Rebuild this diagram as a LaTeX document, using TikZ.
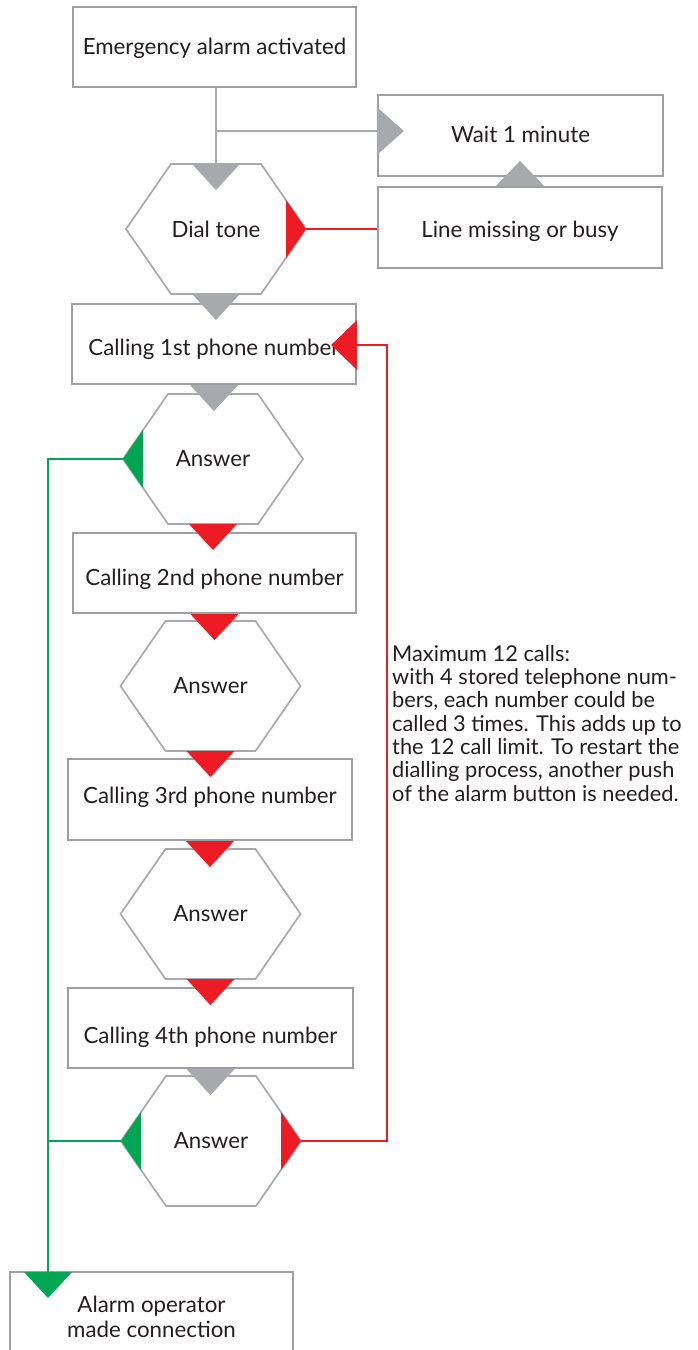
\documentclass[tikz,border=0pt]{standalone}
\usepackage{fontspec}
\setmainfont{Lato}

\definecolor{linegray}{HTML}{A7A9AC}
\definecolor{boxgray}{HTML}{9D9FA2}
\definecolor{tred}{HTML}{ED1C24}
\definecolor{tgreen}{HTML}{00A651}
\definecolor{txt}{HTML}{231F20}

\tikzset{
    box/.style={draw=boxgray, line width=2.2pt, fill=white, minimum width=284pt,
        minimum height=80pt, text=txt, font=\fontsize{22.3}{25}\selectfont},
    tbox/.style={box, text height=#1, text depth=2pt},
    tbox/.default=16pt,
    lbl/.style={text=txt, font=\fontsize{22.3}{25}\selectfont},
    note/.style={text=txt, font=\fontsize{21.8}{23.3}\selectfont, align=left, inner sep=0pt},
    hex line/.style={draw=linegray, line width=1.7pt, fill=white},
    gray line/.style={draw=linegray, line width=1.6pt},
    red line/.style={draw=tred, line width=1.6pt},
    green line/.style={draw=tgreen, line width=1.6pt},
    pics/hexa/.style={code={
        \draw[hex line] (-\hxw,0) -- (-\hxt,-\hxh) -- (\hxt,-\hxh) -- (\hxw,0)
            -- (\hxt,\hxh) -- (-\hxt,\hxh) -- cycle;
        \node[lbl] (-c) at (0,0) {#1};
        \coordinate (-n) at (0,-\hxh);
        \coordinate (-s) at (0,\hxh);
        \coordinate (-w) at (-\hxw,0);
        \coordinate (-e) at (\hxw,0);
    }},
    pics/tdown/.style={code={\fill[#1] (-24,0) -- (24,0) -- (0,26) -- cycle;}},
}

\begin{document}
\begin{tikzpicture}[x=1pt,y=-1pt]
    \pgfmathsetmacro{\hxw}{90}
    \pgfmathsetmacro{\hxt}{45}
    \pgfmathsetmacro{\hxh}{65}
    \useasboundingbox (0,0) rectangle (697,1350);

    % Boxes
    \node[tbox, minimum width=283pt] (alarm) at (214.5,47) {Emergency alarm activated};
    \node[tbox=15pt, minimum width=285pt, minimum height=81pt] (wait) at (520.5,135.5) {Wait 1 minute};
    \node[tbox=21pt, minimum height=81pt] (busy) at (520,227.5) {Line missing or busy};
    \node[tbox=24pt] (call1) at (214,344) {Calling 1st phone number};
    \node[tbox=27pt, minimum width=283pt] (call2) at (214.5,573) {Calling 2nd phone number};
    \node[tbox=9pt, minimum height=81pt] (call3) at (210,799.5) {Calling 3rd phone number};
    \node[tbox=32pt, minimum width=285pt] (call4) at (210.5,1028) {Calling 4th phone number};
    \node[box, minimum width=283pt, minimum height=90pt, align=center] (oper) at (151.5,1317)
        {Alarm operator\\made connection};

    % Decisions
    \pic (dial) at (216,229) {hexa=Dial tone};
    \pic (ans1) at (213,459) {hexa=Answer};
    \pic (ans2) at (210.5,686) {hexa=Answer};
    \pic (ans3) at (210.5,914) {hexa=Answer};
    \pic (ans4) at (211,1141) {hexa=Answer};

    % Connectors
    \coordinate (split) at (216,131);
    \coordinate (loop) at (387,345);
    \coordinate (drop) at (48,1272);
    \draw[gray line] (dial-n |- alarm.south) -- (dial-n);
    \draw[gray line] (split) -- (split -| wait.west);
    \draw[red line] (dial-e) -- (dial-e -| busy.west);
    \draw[red line] (ans4-e) -| (loop) -- (loop -| call1.east);
    \draw[green line] (ans1-w) -| (drop);
    \draw[green line] (ans4-w) -- (ans4-w -| drop);

    % Down triangles
    \pic at (dial-n) {tdown=linegray};
    \pic at (dial-s) {tdown=linegray};
    \pic at (call1.south) {tdown=linegray};
    \pic at (ans1-s) {tdown=tred};
    \pic at (call2.south) {tdown=tred};
    \pic at (ans2-s) {tdown=tred};
    \pic at (call3.south) {tdown=tred};
    \pic at (ans3-s) {tdown=tred};
    \pic at (call4.south) {tdown=linegray};
    \pic at (drop) {tdown=tgreen};

    % Side triangles
    \fill[linegray] (split -| wait.west) ++(0,-24) -- ++(27,24) -- ++(-27,24) -- cycle;
    \fill[linegray] (busy.north) ++(-24,0) -- ++(24,-25) -- ++(24,25) -- cycle;
    \fill[tred] (loop -| call1.east) ++(0,-25) -- ++(-26,25) -- ++(26,25) -- cycle;
    \fill[tred] (dial-e) -- ++(-20,-29) -- ++(0,58) -- cycle;
    \fill[tgreen] (ans1-w) -- ++(20,-29) -- ++(0,58) -- cycle;
    \fill[tgreen] (ans4-w) -- ++(20,-29) -- ++(0,58) -- cycle;
    \fill[tred] (ans4-e) -- ++(-20,-29) -- ++(0,58) -- cycle;

    % Note
    \node[note, anchor=north west] (limit) at (392,645)
        {Maximum 12 calls:\\with 4 stored telephone num-\\bers, each number could be\\
         called 3 times. This adds up to\\the 12 call limit. To restart the\\
         dialling process, another push\\of the alarm button is needed.};
\end{tikzpicture}
\end{document}
